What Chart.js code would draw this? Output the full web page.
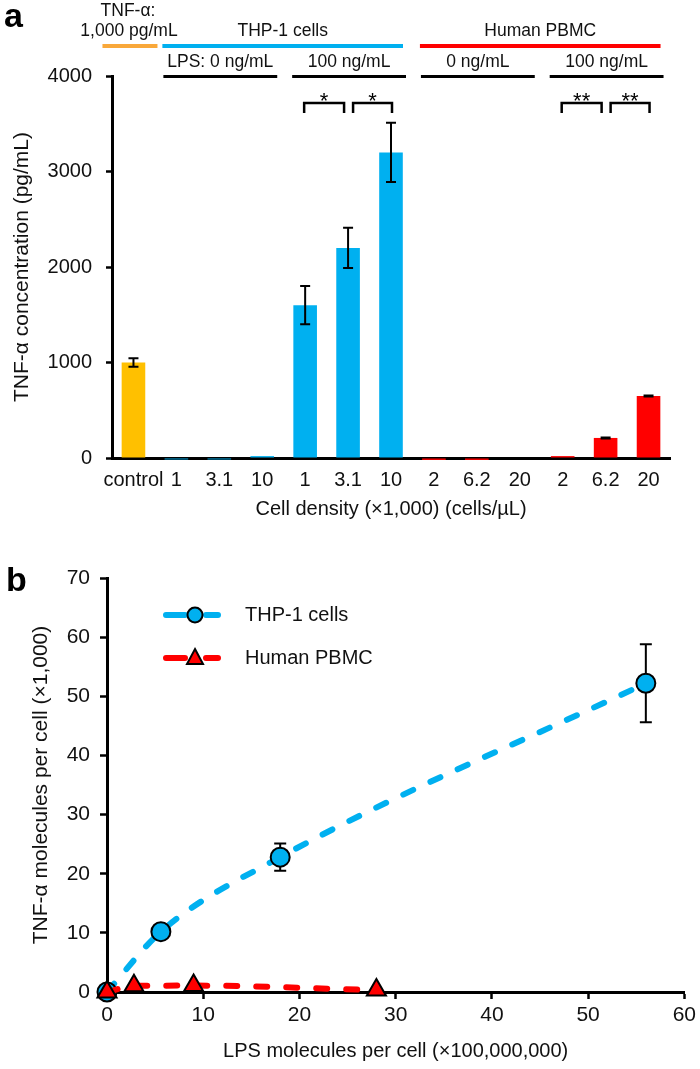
<!DOCTYPE html>
<html><head><meta charset="utf-8">
<script src="https://cdn.jsdelivr.net/npm/chart.js@4/dist/chart.umd.min.js"></script>
<style>
html,body{margin:0;padding:0;background:#fff;}
#wa{position:absolute;left:0;top:0;width:700px;height:540px;}
#wb{position:absolute;left:0;top:540px;width:700px;height:529px;}
</style></head><body>
<div id="wa"><canvas id="ca" width="700" height="540"></canvas></div>
<div id="wb"><canvas id="cb" width="700" height="529"></canvas></div>
<script>
// ---------- Panel a data ----------
const categories = ['control','1','3.1','10','1','3.1','10','2','6.2','20','2','6.2','20'];
const concentrations = [1000,-15,-15,20,1600,2200,3200,-20,-20,0,20,210,650];
const concErrors = [45,0,0,0,200,210,310,0,0,0,0,5,5];
const controlLabel = ['TNF-α:','1,000 pg/mL'];
const cellTypeLabels = ['THP-1 cells','Human PBMC'];
const cellTypeRanges = [[1,6],[7,12]];
const lpsLabels = ['LPS: 0 ng/mL','100 ng/mL','0 ng/mL','100 ng/mL'];
const lpsRanges = [[1,3],[4,6],[7,9],[10,12]];
const sigPairs = [[4,5,'*'],[5,6,'*'],[10,11,'**'],[11,12,'**']];
const yTicksA = [0,1000,2000,3000,4000];

// ---------- Panel b data ----------
const seriesNames = ['THP-1 cells','Human PBMC'];
const thpLps = [0,5.6,18,56];
const thpTnf = [0,10.2,22.8,52.2];
const thpErr = [0,0.4,2.3,6.6];
const pbmcLps = [0,2.8,9,28];
const pbmcTnf = [0,1.04,1.08,0.32];
const pbmcErr = [0,0,0,0];

const F = '"Liberation Sans", Arial, sans-serif';
const ORANGE = '#FFC000', BLUE = '#00B0F0', RED = '#FF0000', HDR_ORANGE = '#F9A83A';
const TXT = '#111';
Chart.defaults.font.family = F;

const barColors = categories.map((c,i)=> i===0 ? ORANGE : (i<=6 ? BLUE : RED));
const plain = v => String(v);

const annotA = {
  id:'annotA',
  afterDatasetsDraw(chart){
    const {ctx, scales:{x,y}} = chart;
    ctx.save();
    ctx.strokeStyle='#000'; ctx.lineWidth=2;
    concentrations.forEach((v,i)=>{
      const e = concErrors[i]; if(!e) return;
      const px = x.getPixelForValue(i);
      const y1 = y.getPixelForValue(v+e), y2 = y.getPixelForValue(v-e);
      ctx.beginPath();
      ctx.moveTo(px,y1); ctx.lineTo(px,y2);
      ctx.moveTo(px-5,y1); ctx.lineTo(px+5,y1);
      ctx.moveTo(px-5,y2); ctx.lineTo(px+5,y2);
      ctx.stroke();
    });
    ctx.restore();
  },
  afterDraw(chart){
    const {ctx, scales:{x}} = chart;
    const c = i => x.getPixelForValue(i);
    ctx.save();
    ctx.fillStyle='#000'; ctx.font='bold 34px '+F; ctx.textAlign='left'; ctx.textBaseline='alphabetic';
    ctx.fillText('a', 4, 27);
    ctx.fillStyle=TXT; ctx.textAlign='center'; ctx.textBaseline='middle';
    ctx.font='17.5px '+F;
    const oL = c(0)-31, oR = c(0)+24;
    ctx.fillText(controlLabel[0], (oL+oR)/2-2, 11);
    ctx.fillText(controlLabel[1], (oL+oR)/2-1, 31);
    ctx.fillStyle=HDR_ORANGE; ctx.fillRect(oL, 44, oR-oL, 4);
    const cols=[BLUE,RED];
    cellTypeRanges.forEach((r,k)=>{
      const L=c(r[0])-14, R=c(r[1])+12;
      ctx.fillStyle=cols[k]; ctx.fillRect(L,44,R-L,4);
      ctx.fillStyle=TXT; ctx.fillText(cellTypeLabels[k], (L+R)/2, 31);
    });
    lpsLabels.forEach((lab,k)=>{
      const r=lpsRanges[k];
      const L=c(r[0])-13, R=c(r[1])+15;
      ctx.fillStyle='#000'; ctx.fillRect(L,75,R-L,3);
      ctx.fillStyle=TXT; ctx.fillText(lab, (L+R)/2, 62);
    });
    ctx.strokeStyle='#000'; ctx.lineWidth=2.5; ctx.lineCap='butt';
    sigPairs.forEach((p,k)=>{
      const first = k%2===0;
      const L = first ? c(p[0])-1 : c(p[0])+5;
      const R = first ? c(p[1])-4 : c(p[1])+1;
      ctx.beginPath();
      ctx.moveTo(L,113); ctx.lineTo(L,103); ctx.lineTo(R,103); ctx.lineTo(R,113);
      ctx.stroke();
      ctx.fillStyle='#000'; ctx.font='22px '+F; ctx.textBaseline='alphabetic';
      ctx.fillText(p[2], (L+R)/2, 108);
    });
    ctx.restore();
  }
};

new Chart(document.getElementById('ca'), {
  type:'bar',
  data:{labels:categories, datasets:[{data:concentrations, backgroundColor:barColors, barPercentage:0.55, categoryPercentage:1, clip:false}]},
  options:{
    responsive:false, animation:false, devicePixelRatio:1,
    layout:{padding:{top:76,right:30,bottom:0,left:0}},
    plugins:{legend:{display:false}, tooltip:{enabled:false}},
    scales:{
      x:{
        grid:{display:false, drawTicks:false},
        border:{display:true,color:'#000',width:3},
        ticks:{color:TXT, font:{family:F,size:20}, padding:10, maxRotation:0, autoSkip:false},
        title:{display:true, text:'Cell density (×1,000) (cells/µL)', color:TXT, font:{family:F,size:20}, padding:{top:0,bottom:19}},
        afterFit(s){ s.height=82; }
      },
      y:{
        min:0, max:4000,
        afterBuildTicks(s){ s.ticks = yTicksA.map(v=>({value:v})); },
        ticks:{color:TXT, font:{family:F,size:20}, padding:14, callback:plain},
        grid:{drawOnChartArea:false, drawTicks:true, tickLength:6, tickWidth:2.5, tickColor:'#000'},
        border:{display:true,color:'#000',width:3},
        title:{display:true, text:'TNF-α concentration (pg/mL)', color:TXT, font:{family:F,size:21}, padding:{top:10,bottom:0}},
        afterFit(s){ s.width=112; }
      }
    }
  },
  plugins:[annotA]
});

// ---------- Panel b ----------
const annotB = {
  id:'annotB',
  beforeDatasetsDraw(chart){
    const {ctx, scales:{x,y}} = chart;
    ctx.save(); ctx.strokeStyle='#000'; ctx.lineWidth=2;
    [[thpLps,thpTnf,thpErr],[pbmcLps,pbmcTnf,pbmcErr]].forEach(([xs,ys,es])=>{
      xs.forEach((xv,i)=>{
        const e=es[i]; if(!e) return;
        const px=x.getPixelForValue(xv), y1=y.getPixelForValue(ys[i]+e), y2=y.getPixelForValue(ys[i]-e);
        ctx.beginPath();
        ctx.moveTo(px,y1); ctx.lineTo(px,y2);
        ctx.moveTo(px-6,y1); ctx.lineTo(px+6,y1);
        ctx.moveTo(px-6,y2); ctx.lineTo(px+6,y2);
        ctx.stroke();
      });
    });
    ctx.restore();
  },
  afterDraw(chart){
    const {ctx} = chart;
    ctx.save();
    ctx.fillStyle='#000'; ctx.font='bold 34px '+F; ctx.textAlign='left'; ctx.textBaseline='alphabetic';
    ctx.fillText('b', 6, 51);
    const rows=[75,118], cols=[BLUE,RED];
    rows.forEach((ly,k)=>{
      ctx.strokeStyle=cols[k]; ctx.lineWidth=6; ctx.lineCap='round';
      ctx.beginPath(); ctx.moveTo(166,ly); ctx.lineTo(185,ly); ctx.moveTo(206,ly); ctx.lineTo(218,ly); ctx.stroke();
      ctx.fillStyle=cols[k]; ctx.strokeStyle='#000'; ctx.lineWidth=2;
      ctx.beginPath();
      if(k===0){ ctx.arc(195,ly,7.5,0,Math.PI*2); }
      else { ctx.moveTo(195,ly-9); ctx.lineTo(203,ly+6); ctx.lineTo(187,ly+6); ctx.closePath(); }
      ctx.fill(); ctx.stroke();
      ctx.fillStyle=TXT; ctx.font='20px '+F; ctx.textBaseline='middle';
      ctx.fillText(seriesNames[k], 245, ly);
    });
    ctx.restore();
  }
};

new Chart(document.getElementById('cb'), {
  type:'line',
  data:{datasets:[
    {label:seriesNames[0], data:thpLps.map((v,i)=>({x:v,y:thpTnf[i]})), borderColor:BLUE, borderWidth:6, borderDash:[11,19], borderCapStyle:'round',
     cubicInterpolationMode:'monotone', pointStyle:'circle', pointRadius:9.5, pointBackgroundColor:BLUE, pointBorderColor:'#000', pointBorderWidth:2, clip:false, order:1},
    {label:seriesNames[1], data:pbmcLps.map((v,i)=>({x:v,y:pbmcTnf[i]})), borderColor:RED, borderWidth:6, borderDash:[11,19], borderCapStyle:'round',
     cubicInterpolationMode:'monotone', pointStyle:'triangle', pointRadius:11, pointBackgroundColor:RED, pointBorderColor:'#000', pointBorderWidth:2, clip:false, order:0}
  ]},
  options:{
    responsive:false, animation:false, devicePixelRatio:1,
    layout:{padding:{top:38,right:13,bottom:0,left:0}},
    plugins:{legend:{display:false}, tooltip:{enabled:false}},
    scales:{
      x:{
        type:'linear', min:0, max:60,
        ticks:{stepSize:10, color:TXT, font:{family:F,size:21}, padding:4, maxRotation:0, callback:plain},
        grid:{drawOnChartArea:false, drawTicks:true, tickLength:7, tickWidth:2.5, tickColor:'#000'},
        border:{display:true,color:'#000',width:3},
        title:{display:true, text:'LPS molecules per cell (×100,000,000)', color:TXT, font:{family:F,size:20}, padding:{top:0,bottom:6}},
        afterFit(s){ s.height=77; }
      },
      y:{
        type:'linear', min:0, max:70,
        ticks:{stepSize:10, color:TXT, font:{family:F,size:21}, padding:10, callback:plain},
        grid:{drawOnChartArea:false, drawTicks:true, tickLength:7, tickWidth:2.5, tickColor:'#000'},
        border:{display:true,color:'#000',width:3},
        title:{display:true, text:'TNF-α molecules per cell (×1,000)', color:TXT, font:{family:F,size:21}, padding:{top:29,bottom:0}},
        afterFit(s){ s.width=107; }
      }
    }
  },
  plugins:[annotB]
});
</script>
</body></html>
